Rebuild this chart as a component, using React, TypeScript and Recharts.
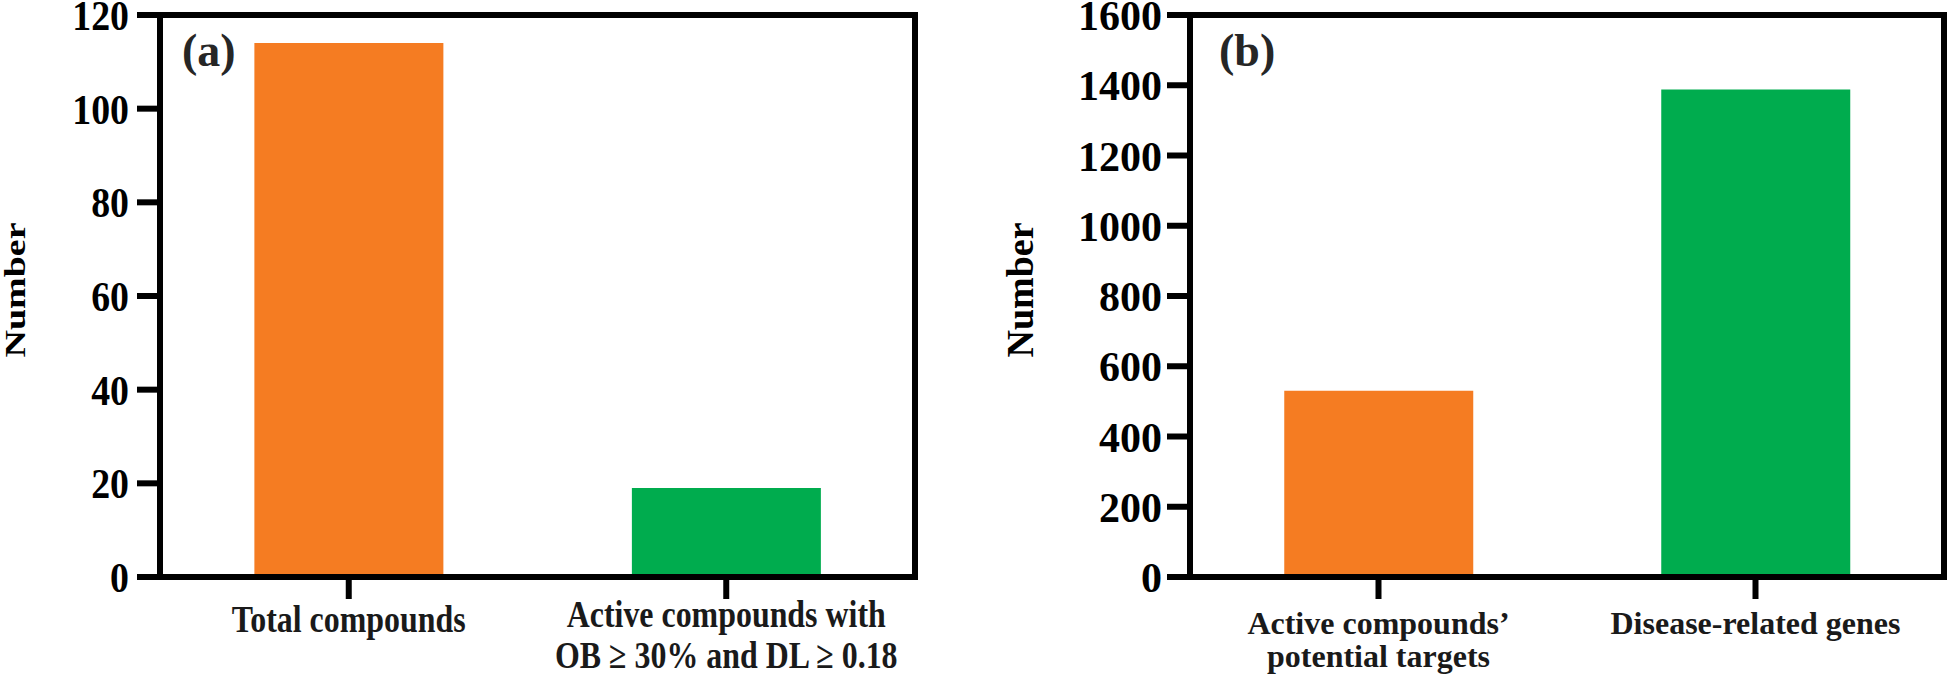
import React from 'react';
import { BarChart, Bar, XAxis, YAxis, Cell, ReferenceArea } from 'recharts';

const categoriesA = ['Total compounds', 'Active compounds with\nOB ≥ 30% and DL ≥ 0.18'];
const valuesA = [114, 19];
const ticksA = [0, 20, 40, 60, 80, 100, 120];

const categoriesB = ['Active compounds’\npotential targets', 'Disease-related genes'];
const valuesB = [530, 1388];
const ticksB = [0, 200, 400, 600, 800, 1000, 1200, 1400, 1600];

const barColors = ['#F57C22', '#00AC4E'];
const panelLabels = ['(a)', '(b)'];
const yLabel = 'Number';

const dataA = categoriesA.map((name, i) => ({ name, value: valuesA[i] }));
const dataB = categoriesB.map((name, i) => ({ name, value: valuesB[i] }));

const FONT = 'Liberation Serif, DejaVu Serif, serif';
const AX = { stroke: '#000', strokeWidth: 6 };
const TS: React.CSSProperties = { fontFamily: FONT, fontWeight: 700 };

const makeYTick = (sx: number) => (props: any) => {
  const { x, y, payload } = props;
  return (
    <g transform={`translate(${x},${y}) scale(${sx},1)`}>
      <text x={0} y={0} dy="0.36em" textAnchor="end" style={TS} fontSize={42} fill="#000">
        {payload.value}
      </text>
    </g>
  );
};

const makeXTick = (fs: number, sx: number, off1: number[], off2: number[]) => (props: any) => {
  const { x, y, payload } = props;
  const lines = String(payload.value).split('\n');
  const offs = lines.length === 1 ? off1 : off2;
  return (
    <g transform={`translate(${x},${y}) scale(${sx},1)`}>
      {lines.map((l, i) => (
        <text key={i} x={0} y={offs[i]} textAnchor="middle" style={TS} fontSize={fs} fill="#1a1a1a">
          {l}
        </text>
      ))}
    </g>
  );
};

const makeYLabel = (bx: number, sx: number) => (props: any) => {
  const { viewBox } = props;
  const cy = viewBox.y + viewBox.height / 2 - 6;
  return (
    <g transform={`translate(${viewBox.x + bx},${cy}) scale(${sx},1) rotate(-90)`}>
      <text x={0} y={0} textAnchor="middle" style={TS} fontSize={38} fill="#000">
        {yLabel}
      </text>
    </g>
  );
};

const makePanelLabel = (text: string, dx: number) => (props: any) => {
  const { viewBox } = props;
  return (
    <text x={viewBox.x + dx} y={viewBox.y + 51} style={TS} fontSize={46} fill="#262626">
      {text}
    </text>
  );
};

function Panel(props: {
  data: any[];
  ticks: number[];
  max: number;
  width: number;
  yWidth: number;
  right: number;
  yTickScale: number;
  tickMargin: number;
  xFont: number;
  xScale: number;
  off1: number[];
  off2: number[];
  labelX: number;
  labelScale: number;
  panel: string;
  panelDx: number;
}) {
  const p = props;
  return (
    <BarChart
      width={p.width}
      height={677}
      data={p.data}
      margin={{ top: 15, right: p.right, bottom: 0, left: 0 }}
      barCategoryGap="25%"
    >
      <XAxis
        dataKey="name"
        height={100}
        tickSize={22}
        tickMargin={0}
        tickLine={AX}
        axisLine={AX}
        interval={0}
        tick={makeXTick(p.xFont, p.xScale, p.off1, p.off2)}
      />
      <YAxis
        width={p.yWidth}
        domain={[0, p.max]}
        ticks={p.ticks}
        interval={0}
        tickSize={23}
        tickMargin={p.tickMargin}
        tickLine={AX}
        axisLine={AX}
        tick={makeYTick(p.yTickScale)}
        label={{ content: makeYLabel(p.labelX, p.labelScale) } as any}
      />
      <Bar dataKey="value" isAnimationActive={false}>
        {p.data.map((_, i) => (
          <Cell key={i} fill={barColors[i]} />
        ))}
      </Bar>
      <ReferenceArea
        y1={0}
        y2={p.max}
        ifOverflow="visible"
        fill="none"
        fillOpacity={0}
        stroke="#000"
        strokeWidth={6}
        strokeOpacity={1}
        label={{ content: makePanelLabel(p.panel, p.panelDx) } as any}
      />
    </BarChart>
  );
}

export default function App() {
  return (
    <div style={{ position: 'absolute', left: 0, top: 0, width: 1948, height: 677, background: '#fff' }}>
      <div style={{ position: 'absolute', left: 0, top: 0 }}>
        <Panel
          data={dataA}
          ticks={ticksA}
          max={120}
          width={960}
          yWidth={160}
          right={45}
          yTickScale={0.9}
          tickMargin={8}
          xFont={38}
          xScale={0.84}
          off1={[33]}
          off2={[28, 69]}
          labelX={25}
          labelScale={0.77}
          panel={panelLabels[0]}
          panelDx={22}
        />
      </div>
      <div style={{ position: 'absolute', left: 960, top: 0 }}>
        <Panel
          data={dataB}
          ticks={ticksB}
          max={1600}
          width={988}
          yWidth={230}
          right={4}
          yTickScale={1}
          tickMargin={5}
          xFont={32}
          xScale={1}
          off1={[35]}
          off2={[35, 68]}
          labelX={73}
          labelScale={1}
          panel={panelLabels[1]}
          panelDx={29}
        />
      </div>
    </div>
  );
}
